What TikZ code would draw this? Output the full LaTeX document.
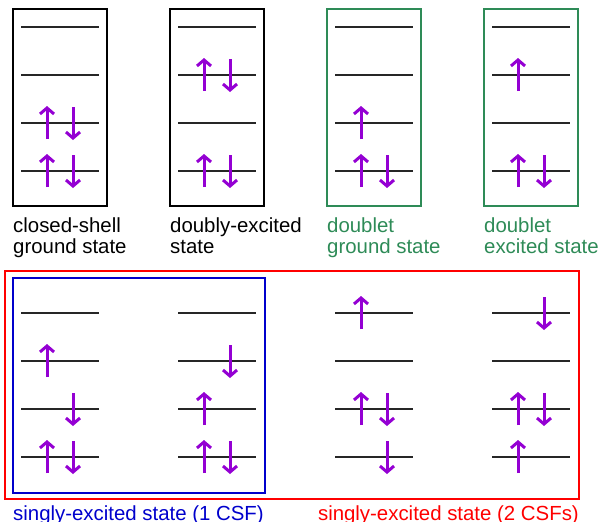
\documentclass[tikz,border=0pt]{standalone}
\usepackage{fontspec}
\setmainfont{Liberation Sans}
\usetikzlibrary{arrows.meta}
\definecolor{spinc}{HTML}{9400D3}
\definecolor{grn}{HTML}{2E8B57}
\definecolor{blu}{HTML}{0000CC}
\definecolor{redc}{HTML}{FF0000}
\newcommand\lev[2]{\draw[level] (#1,#2) -- ++(78,0);}
\newcommand\su[2]{\draw[spin] (#1+26,#2+16) -- (#1+26,#2-17);}
\newcommand\sd[2]{\draw[spin] (#1+52,#2-16) -- (#1+52,#2+17);}
\newcommand\fourlev[2]{\lev{#1}{#2}\lev{#1}{#2+48}\lev{#1}{#2+96}\lev{#1}{#2+144}}
\begin{document}
\begin{tikzpicture}[x=1pt,y=-1pt,
  level/.style={line width=1.5pt,black!85},
  spin/.style={line width=3pt,spinc,-{Straight Barb[length=6pt,width=14pt,line width=3pt]}},
  frame/.style={line width=2pt},
  lbl/.style={anchor=base west,inner sep=0pt,align=left,font=\fontsize{20.4}{21}\selectfont}]
\useasboundingbox (0,0) rectangle (600,522);
% top row frames
\draw[frame,black] (13,9) rectangle (107,206);
\draw[frame,black] (170,9) rectangle (264,206);
\draw[frame,grn] (327,9) rectangle (421,206);
\draw[frame,grn] (484,9) rectangle (578,206);
% levels top
\fourlev{21}{27}
\fourlev{178}{27}
\fourlev{335}{27}
\fourlev{492}{27}
% closed-shell
\su{21}{123}\sd{21}{123}
\su{21}{171}\sd{21}{171}
% doubly-excited
\su{178}{75}\sd{178}{75}
\su{178}{171}\sd{178}{171}
% doublet ground
\su{335}{123}
\su{335}{171}\sd{335}{171}
% doublet excited
\su{492}{75}
\su{492}{171}\sd{492}{171}
% labels top (anchor at baseline of last line)
\node[lbl] (l1) at (13,253) {closed-shell\\ground state};
\node[lbl] (l2) at (170,253) {doubly-excited\\state};
\node[lbl,text=grn] (l3) at (327,253) {doublet\\ground state};
\node[lbl,text=grn] (l4) at (484,253) {doublet\\excited state};
% bottom frames
\draw[frame,redc] (5,271) rectangle (579,499);
\draw[frame,blu] (13,278) rectangle (265,493);
% levels bottom
\fourlev{21}{313}
\fourlev{178}{313}
\fourlev{335}{313}
\fourlev{492}{313}
% singly excited 1
\su{21}{361}
\sd{21}{409}
\su{21}{457}\sd{21}{457}
% singly excited 2
\sd{178}{361}
\su{178}{409}
\su{178}{457}\sd{178}{457}
% 2 CSFs, a
\su{335}{313}
\su{335}{409}\sd{335}{409}
\sd{335}{457}
% 2 CSFs, b
\sd{492}{313}
\su{492}{409}\sd{492}{409}
\su{492}{457}
% bottom labels
\node[lbl,text=blu] (l5) at (13,520) {singly-excited state (1 CSF)};
\node[lbl,text=redc,anchor=base east] (l6) at (579,520) {singly-excited state (2 CSFs)};
\end{tikzpicture}
\end{document}
